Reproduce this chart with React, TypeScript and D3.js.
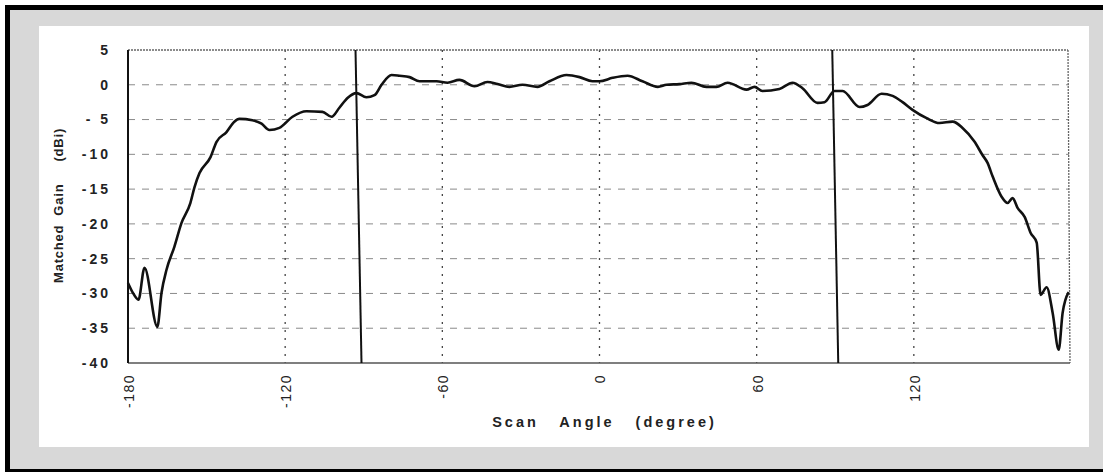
import React from 'react'
import * as d3 from 'd3'

// scan angle (deg) and matched gain (dBi)
const angles = [
  -180, -178.3, -176, -173.7, -168.8, -167.2, -165.3, -162.3, -159.6, -156.2,
  -154.6, -152.7, -148.5, -146.2, -142.4, -139.4, -137.5, -132.5, -129, -126,
  -122.2, -117.2, -111.9, -105.8, -102.3, -99.3, -96.2, -92.8, -89, -85.9,
  -83.2, -79.4, -76.4, -72.5, -68.7, -62.2, -58, -53.5, -47.7, -42.8,
  -38.9, -34.4, -29.4, -23.7, -19.1, -12.6, -7.6, -2.7, 0, 5,
  10.7, 16.4, 22.3, 25.6, 30.5, 35.1, 40.8, 44.6, 48.9, 56.1,
  59.2, 62.2, 68.7, 73.7, 77.5, 83.2, 85.9, 89.7, 92.8, 99.3,
  102.3, 107.7, 111.9, 115.7, 119.5, 124.9, 129.8, 134.8, 138.6, 143.2,
  146.2, 148.1, 150.1, 153.5, 155.8, 157.7, 159.6, 162.3, 164.6, 166.9,
  168.4, 170.7, 173, 175.3, 176.8, 179.1,
]
const gains = [
  -28.5, -29.8, -30.9, -26.3, -34.8, -29.9, -26.6, -23.3, -19.9, -17.0,
  -14.7, -12.7, -10.4, -8.2, -6.8, -5.3, -4.9, -5.1, -5.6, -6.5,
  -6.2, -4.6, -3.8, -3.9, -4.6, -3.3, -1.9, -1.2, -1.8, -1.5,
  0.0, 1.4, 1.3, 1.1, 0.5, 0.5, 0.3, 0.7, -0.2, 0.4,
  0.1, -0.3, 0.0, -0.3, 0.5, 1.4, 1.1, 0.5, 0.5, 1.0,
  1.3, 0.5, -0.3, 0.0, 0.1, 0.3, -0.3, -0.3, 0.3, -0.7,
  -0.3, -0.9, -0.6, 0.3, -0.5, -2.6, -2.5, -0.9, -0.9, -3.2,
  -2.9, -1.3, -1.6, -2.5, -3.6, -4.8, -5.5, -5.3, -6.2, -8.2,
  -10.1, -11.2, -13.2, -16.1, -17.0, -16.3, -17.7, -19.0, -21.3, -22.7,
  -30.2, -29.1, -32.8, -38.1, -32.8, -29.8,
]

const dividerAngles = [-92, 90]
const xTicks = [-180, -120, -60, 0, 60, 120]
const xTickLabels = ['-180', '-120', '-60', '0', '60', '120']
const yTicks = [5, 0, -5, -10, -15, -20, -25, -30, -35, -40]
const yTickLabels = ['5', '0', '- 5', '-10', '-15', '-20', '-25', '-30', '-35', '-40']

const W = 1103
const H = 472
const left = 128, right = 1071, top = 50, bottom = 363
const font = '"Liberation Sans", Arial, sans-serif'

export default function App() {
  const x = d3.scaleLinear().domain([-180, 180]).range([left, right])
  const y = d3.scaleLinear().domain([-40, 5]).range([bottom, top])

  const pts: [number, number][] = angles.map((a, i) => [a, gains[i]])
  const line = d3.line<[number, number]>()
    .x(d => x(d[0]))
    .y(d => y(d[1]))
    .curve(d3.curveMonotoneX)

  const xMid = (left + right) / 2

  return (
    <svg width={W} height={H} style={{ position: 'absolute', left: 0, top: 0, background: '#fff' }}>
      {/* frame */}
      <rect x={7.5} y={7.5} width={W + 10} height={464} fill="#d8d8d8" stroke="#000" strokeWidth={5} />
      <rect x={39} y={26} width={1050} height={421} fill="#fff" />

      {/* horizontal dashed grid */}
      {yTicks.filter(v => v !== 5 && v !== -40).map(v => (
        <line key={'hg' + v} x1={left} x2={x(180) - 2} y1={y(v)} y2={y(v)}
          stroke="#8a8a8a" strokeWidth={1} strokeDasharray="7,7" />
      ))}
      {/* vertical dotted grid */}
      {xTicks.filter(v => v !== -180).map(v => (
        <line key={'vg' + v} x1={x(v)} x2={x(v)} y1={top} y2={bottom}
          stroke="#444" strokeWidth={1.3} strokeDasharray="2,6" />
      ))}

      {/* plot border */}
      <line x1={left} x2={right - 3} y1={top} y2={top} stroke="#666" strokeWidth={1.3} strokeDasharray="2,1" />
      <line x1={right - 3} x2={right - 1} y1={top} y2={bottom} stroke="#666" strokeWidth={1.3} strokeDasharray="2,1" />
      <line x1={left} x2={right - 1} y1={bottom} y2={bottom} stroke="#555" strokeWidth={1.5} />
      <line x1={left} x2={left} y1={top} y2={bottom} stroke="#111" strokeWidth={2} />

      {/* divider lines */}
      {dividerAngles.map(a => (
        <line key={'dv' + a} x1={x(a) - 3} x2={x(a) + 3} y1={top} y2={bottom} stroke="#111" strokeWidth={2} />
      ))}

      {/* gain curve */}
      <path d={line(pts) ?? ''} fill="none" stroke="#111" strokeWidth={2.6} strokeLinejoin="round" />

      {/* y tick labels */}
      {yTicks.map((v, i) => (
        <text key={'yl' + v} x={111} y={y(v)} dy="0.35em" textAnchor="end"
          fontFamily={font} fontSize={14} fontWeight="bold" letterSpacing={3}
          fill="#222" style={{ whiteSpace: 'pre' }}>{yTickLabels[i]}</text>
      ))}

      {/* x tick labels */}
      {xTicks.map((v, i) => (
        <text key={'xl' + v} transform={`translate(${x(v) + 1},${bottom + 11}) rotate(-90)`}
          dy="0.35em" textAnchor="end" fontFamily={font} fontSize={14} letterSpacing={1.5}
          fill="#222">{xTickLabels[i]}</text>
      ))}

      {/* axis titles */}
      <text transform="translate(58,283) rotate(-90)" dy="0.35em"
        fontFamily={font} fontSize={13} fontWeight="bold" fill="#222" letterSpacing={0.8}>
        <tspan>Matched</tspan>
        <tspan dx={9}>Gain</tspan>
        <tspan dx={22}>(dBi)</tspan>
      </text>
      <text x={xMid + 5} y={422} textAnchor="middle" dy="0.35em"
        fontFamily={font} fontSize={14.5} fontWeight="bold" fill="#222"
        letterSpacing={3} wordSpacing={14}>Scan Angle (degree)</text>
    </svg>
  )
}
